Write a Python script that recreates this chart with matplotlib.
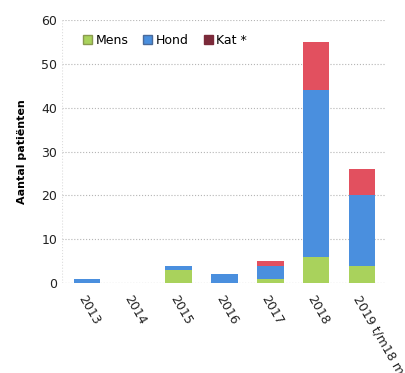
import matplotlib.pyplot as plt
import numpy as np
from matplotlib.patches import Patch

years = ["2013", "2014", "2015", "2016", "2017", "2018", "2019 t/m18 mrt"]
mens = [0, 0, 3, 0, 1, 6, 4]
hond = [1, 0, 1, 2, 3, 38, 16]
kat = [0, 0, 0, 0, 1, 11, 6]

green = "#a9d25c"
blue = "#4a8fde"
red = "#e2505f"

fig = plt.figure(figsize=(4.06, 3.73), dpi=100)
ax = fig.add_axes([0.153, 0.241, 0.795, 0.705])

x = np.arange(len(years))
w = 0.58
mens = np.array(mens)
hond = np.array(hond)
kat = np.array(kat)
ax.bar(x, mens, w, color=green, linewidth=0, zorder=3)
ax.bar(x, hond, w, bottom=mens, color=blue, linewidth=0, zorder=3)
ax.bar(x, kat, w, bottom=mens + hond, color=red, linewidth=0, zorder=3)

ax.set_xlim(-0.54, 6.5)
ax.set_ylim(0, 60)
ax.set_yticks(range(0, 61, 10))
ax.yaxis.grid(True, linestyle=":", color="#b5b5b5", linewidth=0.8, zorder=0)
for s in ax.spines.values():
    s.set_visible(False)
ax.axhline(0, color="#bbbbbb", linestyle=":", linewidth=0.8)
ax.axvline(-0.54, color="#dddddd", linestyle=":", linewidth=0.8)
ax.tick_params(length=0, labelsize=9, colors="#222222")
ax.tick_params(axis="x", pad=7)
ax.set_xticks(x)
ax.set_xticklabels(years, rotation=-60, ha="left", rotation_mode="anchor")
for lbl in ax.get_xticklabels():
    lbl.set_clip_on(False)
ax.set_ylabel("Aantal patiënten", fontsize=8, fontweight="bold", labelpad=10)

handles = [Patch(facecolor=green, edgecolor="#8a9a50"),
           Patch(facecolor=blue, edgecolor="#4a6a9a"),
           Patch(facecolor="#7b2a3a", edgecolor="#7b2a3a")]
ax.legend(handles, ["Mens", "Hond", "Kat *"], loc="upper left", ncol=3,
          bbox_to_anchor=(0.03, 0.99), frameon=False, fontsize=9,
          handlelength=0.7, handleheight=0.7, handletextpad=0.3, columnspacing=1.2)

fig.savefig("out.png", dpi=100)
